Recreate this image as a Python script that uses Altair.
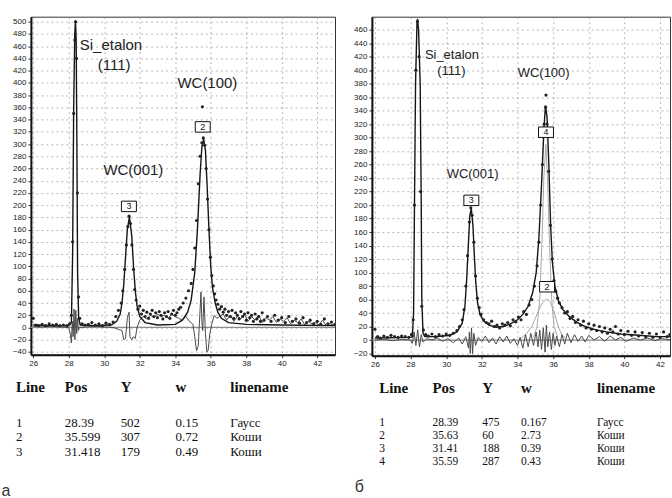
import altair as alt
import pandas as pd

# ---------------- panel а : spectrum values ----------------
xa_obs = [26.0, 26.15, 26.3, 26.5, 26.7, 26.9, 27.1, 27.3, 27.5, 27.7, 27.9, 28.05,
          28.15, 28.22, 28.28, 28.34, 28.39, 28.44, 28.49, 28.55, 28.62,
          28.75, 28.9, 29.1, 29.3, 29.5, 29.7, 29.9, 30.1, 30.3, 30.5,
          30.65, 30.8, 30.95, 31.05, 31.15, 31.25, 31.33, 31.4, 31.48, 31.56, 31.65, 31.72, 31.8, 31.9,
          32.0, 32.1, 32.2, 32.3, 32.4, 32.5, 32.6, 32.7, 32.8, 32.9, 33.0, 33.1, 33.2, 33.3, 33.4,
          33.5, 33.6, 33.7, 33.8, 33.9,
          34.0, 34.1, 34.2, 34.3, 34.45, 34.6, 34.75, 34.9,
          35.0, 35.1, 35.2, 35.3, 35.4, 35.5,
          35.58, 35.66, 35.74, 35.82, 35.9, 35.98, 36.06, 36.14, 36.22, 36.3,
          36.4, 36.5, 36.6, 36.7, 36.8, 36.9, 37.0, 37.1, 37.2, 37.3, 37.4, 37.5, 37.6, 37.7, 37.8,
          37.9, 38.0, 38.1, 38.2, 38.3, 38.4, 38.5, 38.6, 38.7, 38.8, 38.9,
          39.0, 39.2, 39.4, 39.6, 39.8, 40.0, 40.2, 40.4, 40.6, 40.8, 41.0, 41.2, 41.4, 41.6, 41.8,
          42.0, 42.2, 42.4, 42.6, 42.8, 43.0, 35.53]
ya_obs = [15, 4, 3, 5, 3, 6, 4, 5, 3, 4, 3, 6,
          20, 140, 350, 470, 500, 440, 220, 50, 15,
          6, 4, 5, 8, 4, 6, 3, 7, 5, 9,
          18, 28, 40, 60, 95, 135, 165, 182, 170, 135, 95, 62, 45, 30,
          35, 22, 28, 18, 25, 15, 22, 28, 18, 24, 16, 26, 20, 14, 24,
          18, 26, 15, 22, 28,
          20, 24, 30, 33, 40, 48, 60, 72,
          95, 130, 175, 235, 280, 302,
          310, 298, 260, 210, 160, 115, 85, 68, 55, 45,
          38, 30, 34, 25, 30, 20, 26, 18, 28, 15, 24, 20, 14, 26, 18,
          22, 12, 24, 16, 20, 10, 22, 14, 18, 10, 24,
          12, 18, 10, 20, 12, 16, 8, 18, 10, 14, 7, 16, 8, 12, 6,
          10, 5, 14, 6, 9, 5, 361]

xa_fit = [26.0, 27.0, 28.0, 28.15, 28.22, 28.28, 28.34, 28.38, 28.42, 28.46,
          28.5, 28.56, 28.65, 29.5, 30.4, 30.7, 30.9, 31.0, 31.1, 31.2,
          31.3, 31.42, 31.55, 31.65, 31.75, 31.85, 32.0, 32.3, 33.0, 34.0,
          34.4, 34.7, 34.9, 35.1, 35.25, 35.4, 35.5, 35.6, 35.7, 35.8,
          35.9, 36.0, 36.1, 36.25, 36.4, 36.6, 37.0, 38.0, 40.0, 43.0]
ya_fit = [4, 3, 3, 8, 120, 360, 480, 502, 470, 300,
          90, 15, 4, 3, 4, 10, 22, 40, 70, 115,
          160, 181, 150, 100, 60, 35, 18, 8, 4, 5,
          12, 25, 45, 90, 160, 250, 295, 308, 290, 230,
          160, 100, 65, 40, 25, 15, 8, 5, 4, 3]

xa_diff = [26.0, 26.5, 27.0, 27.5, 28.0, 28.1, 28.15, 28.2, 28.25, 28.3,
           28.35, 28.4, 28.45, 28.5, 28.55, 28.6, 29.0, 29.5, 30.0, 30.5,
           30.8, 31.0, 31.1, 31.2, 31.3, 31.35, 31.4, 31.45, 31.55, 31.65,
           31.75, 31.85, 32.0, 32.2, 32.4, 32.6, 32.8, 33.0, 33.2, 33.4,
           33.6, 33.8, 34.0, 34.2, 34.4, 34.6, 34.8, 35.0, 35.1, 35.2,
           35.3, 35.35, 35.45, 35.5, 35.55, 35.62, 35.7, 35.78, 35.85, 35.95,
           36.05, 36.2, 36.35, 36.5, 36.7, 36.9, 37.1, 37.3, 37.5, 37.7,
           37.9, 38.1, 38.3, 38.5, 38.7, 38.9, 39.1, 39.3, 39.5, 39.7,
           39.9, 40.1, 40.3, 40.5, 40.7, 40.9, 41.1, 41.3, 41.5, 41.7,
           41.9, 42.1, 42.3, 42.5, 42.7, 43.0]
ya_diff = [2, 1, 2, 1, 0, -12, -25, 10, -15, 30,
           -20, 28, -10, 15, -5, 0, 1, 2, 1, 0,
           -3, -5, -20, -18, 15, 20, 25, -15, -20, -15,
           -18, 0, 12, 18, 14, 20, 16, 22, 18, 20,
           15, 22, 18, 15, 12, 18, 10, 5, -15, -38,
           -30, 0, 58, 10, -5, 50, -10, -40, -38, -10,
           5, 20, 15, 18, 22, 12, 20, 10, 18, 14,
           22, 10, 18, 12, 20, 8, 16, 12, 18, 8,
           14, 10, 16, 6, 12, 8, 14, 4, 10, 6,
           8, 4, 12, 3, 6, 4]

# ---------------- panel б ----------------
xb_obs = [26.0, 26.15, 26.3, 26.5, 26.7, 26.9, 27.1, 27.3, 27.5, 27.7,
          27.9, 28.05, 28.15, 28.22, 28.3, 28.39, 28.48, 28.56, 28.63, 28.72,
          28.85, 29.0, 29.2, 29.4, 29.6, 29.8, 30.0, 30.2, 30.4, 30.6,
          30.75, 30.9, 31.0, 31.1, 31.2, 31.3, 31.38, 31.45, 31.55, 31.65,
          31.75, 31.85, 31.95, 32.1, 32.25, 32.4, 32.55, 32.7, 32.85, 33.0,
          33.15, 33.3, 33.45, 33.6, 33.75, 33.9, 34.05, 34.2, 34.35, 34.5,
          34.65, 34.8, 34.95, 35.1, 35.2, 35.3, 35.4, 35.5, 35.58, 35.66,
          35.75, 35.85, 35.95, 36.05, 36.15, 36.25, 36.35, 36.5, 36.65, 36.8,
          36.95, 37.1, 37.25, 37.4, 37.55, 37.7, 37.85, 38.0, 38.15, 38.3,
          38.45, 38.6, 38.75, 38.9, 39.05, 39.2, 39.35, 39.5, 39.65, 39.8,
          40.0, 40.2, 40.4, 40.6, 40.8, 41.0, 41.2, 41.4, 41.6, 41.8,
          42.0, 42.2, 42.4, 42.55, 35.6]
yb_obs = [16, 5, 3, 6, 4, 7, 5, 4, 6, 5,
          4, 8, 30, 200, 400, 472, 420, 220, 50, 15,
          8, 6, 9, 5, 8, 6, 9, 7, 10, 14,
          20, 30, 45, 80, 125, 175, 196, 185, 145, 95,
          62, 48, 38, 30, 26, 24, 28, 20, 22, 18,
          24, 22, 26, 21, 30, 27, 34, 30, 42, 38,
          52, 60, 80, 110, 145, 200, 260, 320, 345, 320,
          250, 170, 120, 88, 72, 62, 55, 48, 40, 42,
          32, 35, 26, 30, 22, 28, 18, 24, 16, 22,
          14, 20, 12, 18, 10, 16, 12, 20, 9, 14,
          8, 13, 7, 12, 6, 11, 5, 10, 4, 9,
          4, 12, 5, 8, 363]

xb_fit = [26.0, 28.0, 28.1, 28.17, 28.22, 28.28, 28.36, 28.39, 28.45, 28.54,
          28.6, 28.63, 28.7, 28.8, 29.5, 30.2, 30.6, 30.9, 31.05, 31.15,
          31.25, 31.33, 31.41, 31.5, 31.58, 31.66, 31.76, 31.9, 32.1, 32.4,
          32.8, 33.2, 33.6, 34.0, 34.3, 34.6, 34.85, 35.05, 35.2, 35.35,
          35.48, 35.57, 35.66, 35.76, 35.86, 35.96, 36.1, 36.3, 36.55, 36.9,
          37.3, 37.8, 38.4, 39.0, 39.8, 40.8, 41.8, 42.6]
yb_fit = [3, 4, 5, 40, 200, 380, 470, 476, 460, 380,
          200, 60, 10, 5, 5, 7, 12, 25, 50, 90,
          145, 185, 195, 170, 125, 85, 55, 38, 28, 22,
          19, 20, 24, 30, 38, 50, 70, 100, 150, 230,
          310, 348, 330, 260, 170, 115, 80, 58, 45, 35,
          27, 20, 15, 12, 9, 7, 5, 5]

xb_diff = [26.0, 26.5, 27.0, 27.5, 28.0, 28.1, 28.2, 28.3, 28.4, 28.5,
           28.6, 28.7, 28.9, 29.2, 29.5, 29.8, 30.1, 30.4, 30.7, 30.9,
           31.1, 31.25, 31.3, 31.35, 31.42, 31.48, 31.55, 31.65, 31.8, 32.0,
           32.2, 32.4, 32.6, 32.8, 33.0, 33.2, 33.4, 33.6, 33.8, 34.0,
           34.15, 34.3, 34.45, 34.6, 34.75, 34.9, 35.05, 35.15, 35.25, 35.35,
           35.45, 35.55, 35.62, 35.7, 35.8, 35.9, 36.0, 36.1, 36.2, 36.35,
           36.5, 36.65, 36.8, 37.0, 37.2, 37.4, 37.6, 37.8, 38.0, 38.3,
           38.6, 38.9, 39.2, 39.5, 39.8, 40.1, 40.5, 40.9, 41.3, 41.7,
           42.1, 42.6]
yb_diff = [0, 1, -1, 1, 0, -5, 12, -8, 15, -10,
           8, -3, 2, 0, 3, -2, 2, -4, 3, -6,
           5, -12, 12, -20, 18, -20, 10, -8, 4, -2,
           6, -4, 3, -6, 5, -3, 6, -5, 2, -8,
           4, -12, 8, -10, 10, -8, 12, -10, 15, -14,
           18, -18, 22, -10, 12, -14, 10, -8, 6, -10,
           8, -6, 10, -4, 8, -2, 6, -3, 7, 0,
           5, -2, 6, 0, 4, -2, 3, 0, 3, -1,
           2, 0]

xb_c2 = [34.2, 34.5, 34.8, 35.0, 35.2, 35.4, 35.65, 35.85, 36.05, 36.2, 36.35, 36.5, 36.7]
yb_c2 = [3, 9, 20, 32, 45, 55, 61, 56, 42, 28, 16, 7, 3]
xb_c4 = [34.9, 35.1, 35.25, 35.38, 35.48, 35.59, 35.7, 35.8, 35.92, 36.05, 36.25]
yb_c4 = [4, 20, 60, 150, 240, 290, 230, 140, 60, 20, 5]

# ---------------- labels ----------------
ann_text = ["Si_etalon", "(111)", "WC(100)", "WC(001)"]
ann_a_x = [30.38, 30.56, 35.81, 31.64]
ann_a_y = [462, 429, 399, 258]
ann_b_x = [30.32, 30.29, 35.47, 31.48]
ann_b_y = [423, 398, 395, 246]

box_a_t = ["2", "3"]
box_a_x = [35.55, 31.39]
box_a_y = [328, 198]
box_b_t = ["4", "3", "2"]
box_b_x = [35.6, 31.41, 35.66]
box_b_y = [308, 207, 79]

x_ticks = [26, 28, 30, 32, 34, 36, 38, 40, 42]
ya_ticks = [-40, -20, 0, 20, 40, 60, 80, 100, 120, 140, 160, 180, 200, 220, 240, 260, 280, 300,
            320, 340, 360, 380, 400, 420, 440, 460, 480, 500]
yb_ticks = [-20, 0, 20, 40, 60, 80, 100, 120, 140, 160, 180, 200, 220, 240, 260, 280, 300,
            320, 340, 360, 380, 400, 420, 440, 460]

# ---------------- tables ----------------
headers = ["Line", "Pos", "Y", "w", "linename"]
tab_a_line = ["1", "2", "3"]
tab_a_pos = ["28.39", "35.599", "31.418"]
tab_a_y = ["502", "307", "179"]
tab_a_w = ["0.15", "0.72", "0.49"]
tab_a_name = ["Гаусс", "Коши", "Коши"]
tab_b_line = ["1", "2", "3", "4"]
tab_b_pos = ["28.39", "35.63", "31.41", "35.59"]
tab_b_y = ["475", "60", "188", "287"]
tab_b_w = ["0.167", "2.73", "0.39", "0.43"]
tab_b_name = ["Гаусс", "Коши", "Коши", "Коши"]

SANS = "Liberation Sans"
SERIF = "Liberation Serif"


def plot_panel(obs, fit, diff, comps, ann, boxes, xdom, ydom, yvals, W, H, ann_size):
    xs = alt.Scale(domain=xdom, nice=False, zero=False)
    ys = alt.Scale(domain=ydom, nice=False, zero=False)
    X = alt.X("x:Q", scale=xs, axis=alt.Axis(values=x_ticks, format="d", title=None, grid=True,
                                              labelPadding=2))
    Y = alt.Y("y:Q", scale=ys, axis=alt.Axis(values=yvals, format="d", title=None, grid=True,
                                              labelPadding=2))

    def line(xv, yv, color, width):
        return alt.Chart(pd.DataFrame({"x": xv, "y": yv})).mark_line(
            color=color, strokeWidth=width, clip=True).encode(x=X, y=Y)

    layers = [alt.Chart(pd.DataFrame({"y": [0]})).mark_rule(color="#8c8c8c", strokeWidth=1.3).encode(y=Y)]
    for cx, cy in comps:
        layers.append(line(cx, cy, "#a8a8a8", 1))
    layers.append(line(diff[0], diff[1], "#4a4a4a", 1))
    layers.append(line(fit[0], fit[1], "#151515", 1.4))
    layers.append(alt.Chart(pd.DataFrame({"x": obs[0], "y": obs[1]})).mark_circle(
        color="#222", size=10, opacity=1, clip=True).encode(x=X, y=Y))
    ann_df = pd.DataFrame({"x": ann[1], "y": ann[2], "t": ann[0]})
    layers.append(alt.Chart(ann_df).mark_text(font=SANS, fontSize=ann_size, color="#222").encode(
        x=X, y=Y, text="t:N"))
    box_df = pd.DataFrame({"x": boxes[1], "y": boxes[2], "t": boxes[0]})
    layers.append(alt.Chart(box_df).mark_point(
        shape="M-1,-0.7L1,-0.7L1,0.7L-1,0.7Z", size=225, filled=True, fill="white",
        stroke="#111", strokeWidth=1, opacity=1).encode(x=X, y=Y))
    layers.append(alt.Chart(box_df).mark_text(font=SANS, fontSize=9, color="#111").encode(
        x=X, y=Y, text="t:N"))
    return alt.layer(*layers).properties(width=W, height=H)


def table_panel(cols, xr, yr, tag, W, H, body_size):
    n = len(cols[0])
    cs = alt.Scale(domain=[0, 1, 2, 3, 4, 5], range=xr, nice=False, zero=False)
    rs = alt.Scale(domain=list(range(n + 2)), range=yr, nice=False, zero=False)
    X = alt.X("c:Q", scale=cs, axis=None)
    Y = alt.Y("r:Q", scale=rs, axis=None)
    hdr = pd.DataFrame({"c": [1, 2, 3, 4, 5], "r": [0] * 5, "t": headers})
    body_rows = []
    for j, col in enumerate(cols):
        for i, v in enumerate(col):
            body_rows.append({"c": j + 1, "r": i + 1, "t": v})
    body = pd.DataFrame(body_rows)
    tagdf = pd.DataFrame({"c": [0], "r": [n + 1], "t": [tag]})
    h = alt.Chart(hdr).mark_text(font=SERIF, fontSize=15, fontWeight="bold", align="left",
                                 baseline="middle", color="#111").encode(x=X, y=Y, text="t:N")
    b = alt.Chart(body).mark_text(font=SERIF, fontSize=body_size, align="left", baseline="middle",
                                  color="#111").encode(x=X, y=Y, text="t:N")
    t = alt.Chart(tagdf).mark_text(font=SANS, fontSize=16, align="center", baseline="middle",
                                   color="#333").encode(x=X, y=Y, text="t:N")
    return alt.layer(h, b, t).properties(width=W, height=H,
                                         view=alt.ViewBackground(strokeWidth=0))


plot_a = plot_panel((xa_obs, ya_obs), (xa_fit, ya_fit), (xa_diff, ya_diff), [],
                    (ann_text, ann_a_x, ann_a_y), (box_a_t, box_a_x, box_a_y),
                    [25.87, 43.0], [-44.5, 508.2], ya_ticks, 305, 339, 15)
plot_b = plot_panel((xb_obs, yb_obs), (xb_fit, yb_fit), (xb_diff, yb_diff),
                    [(xb_c2, yb_c2), (xb_c4, yb_c4)],
                    (ann_text, ann_b_x, ann_b_y), (box_b_t, box_b_x, box_b_y),
                    [25.83, 42.56], [-23.2, 479.2], yb_ticks, 299, 340, 13)

table_a = table_panel([tab_a_line, tab_a_pos, tab_a_y, tab_a_w, tab_a_name],
                      [-25, -15, 34, 90, 145, 200], [26.7, 62.3, 76.8, 91.3, 131], "а", 305, 136, 13)
table_b = table_panel([tab_b_line, tab_b_pos, tab_b_y, tab_b_w, tab_b_name],
                      [-12.7, 7.3, 60.7, 110.7, 149.5, 225.7], [27.3, 63, 75.8, 88.6, 101.4, 127],
                      "б", 299, 136, 11.5)

chart = alt.concat(plot_a, plot_b, table_a, table_b, columns=2, bounds="flush",
                   spacing={"row": 5, "column": 37}).properties(
    padding={"left": 1, "top": 15, "right": 0, "bottom": 0},
    background="white",
).configure_view(
    stroke="#333", strokeWidth=1
).configure_axis(
    labelFont=SANS, labelFontSize=8, labelColor="#222",
    tickSize=3, tickColor="#333",
    domainColor="#111", domainWidth=2,
    gridColor="#9a9a9a", gridDash=[2, 3], gridWidth=0.7,
)

chart.save("out.html", embed_options={"renderer": "svg", "actions": False})
